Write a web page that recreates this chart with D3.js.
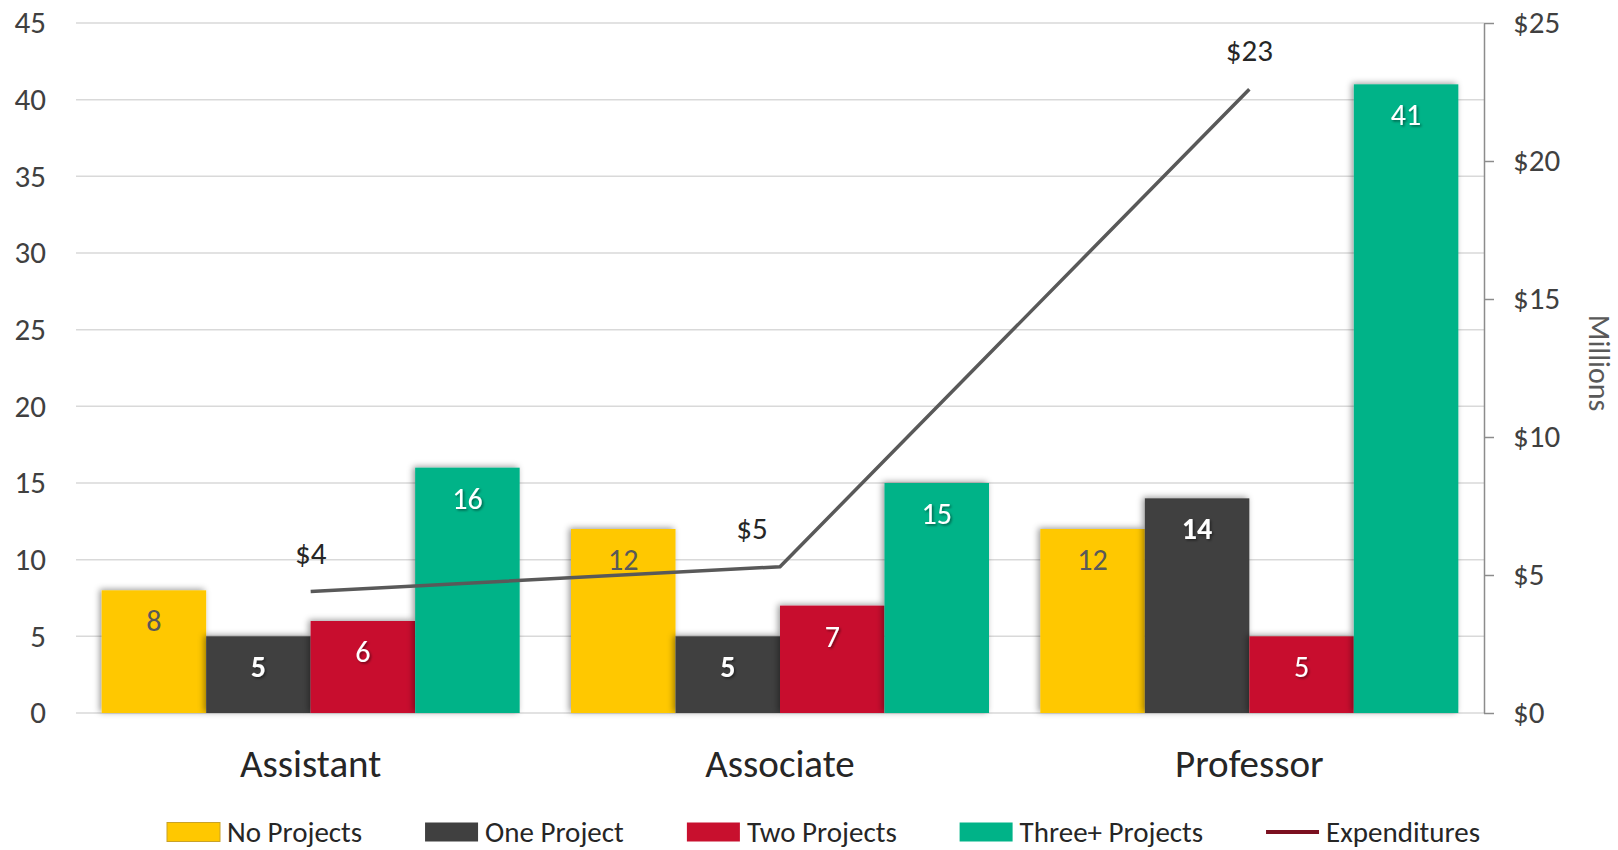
<!DOCTYPE html>
<html>
<head>
<meta charset="utf-8">
<script src="https://cdn.jsdelivr.net/npm/d3@7"></script>
<style>
  html, body { margin: 0; padding: 0; background: #fff; }
  svg { display: block; font-family: Carlito, Lato, "Open Sans", sans-serif; }
</style>
</head>
<body>
<svg id="chart" width="1618" height="850"></svg>
<script>
// Faculty rank categories
const categories = ["Assistant", "Associate", "Professor"];

// Number of faculty by project count, per rank
const seriesNames = ["No Projects", "One Project", "Two Projects", "Three+ Projects"];
const noProjects = [8, 12, 12];
const oneProject = [5, 5, 14];
const twoProjects = [6, 7, 5];
const threePlusProjects = [16, 15, 41];

// Research expenditures per rank, in millions of dollars
const expenditures = [4.4, 5.3, 22.6];

// Axis ticks
const countTicks = [0, 5, 10, 15, 20, 25, 30, 35, 40, 45];
const dollarTicks = [0, 5, 10, 15, 20, 25];

const seriesValues = [noProjects, oneProject, twoProjects, threePlusProjects];
const seriesColors = ["#FFC800", "#404040", "#C8102E", "#00B388"];
const labelColors = ["#595959", "#FFFFFF", "#FFFFFF", "#FFFFFF"];
const labelWeights = ["normal", "bold", "normal", "normal"];
const lineColor = "#595959";
const legendLineColor = "#7B1020";

const svg = d3.select("#chart");

const plot = { left: 76, right: 1484, top: 23, bottom: 713 };

const defs = svg.append("defs");
defs.append("filter").attr("id", "barShadow")
  .attr("x", "-20%").attr("y", "-20%").attr("width", "140%").attr("height", "140%")
  .append("feDropShadow")
  .attr("dx", -2).attr("dy", -1).attr("stdDeviation", 3)
  .attr("flood-color", "#000").attr("flood-opacity", 0.4);
defs.append("filter").attr("id", "textShadow")
  .attr("x", "-30%").attr("y", "-30%").attr("width", "160%").attr("height", "160%")
  .append("feDropShadow")
  .attr("dx", 1.5).attr("dy", 1.5).attr("stdDeviation", 1)
  .attr("flood-color", "#000").attr("flood-opacity", 0.45);

// Scales
const x0 = d3.scaleBand()
  .domain(categories)
  .range([plot.left, plot.right])
  .paddingInner(0.1094)
  .paddingOuter(0.0547);

const x1 = d3.scaleBand()
  .domain(d3.range(seriesNames.length))
  .range([0, x0.bandwidth()]);

const yCount = d3.scaleLinear().domain([0, 45]).range([plot.bottom, plot.top]);
const yDollar = d3.scaleLinear().domain([0, 25]).range([plot.bottom, plot.top]);

// Horizontal gridlines from the count axis
svg.append("g")
  .selectAll("line")
  .data(countTicks)
  .join("line")
  .attr("x1", plot.left).attr("x2", plot.right)
  .attr("y1", d => yCount(d)).attr("y2", d => yCount(d))
  .attr("stroke", "#D9D9D9").attr("stroke-width", 1.5);

// Left axis (labels only)
const leftAxis = svg.append("g")
  .attr("transform", `translate(${plot.left},0)`)
  .call(d3.axisLeft(yCount).tickValues(countTicks).tickSize(0).tickPadding(30));
leftAxis.select(".domain").remove();
leftAxis.selectAll("text")
  .attr("font-size", 31).attr("fill", "#404040")
  .attr("font-family", "Carlito, Lato, sans-serif");

// Right axis
const rightAxis = svg.append("g")
  .attr("transform", `translate(${plot.right},0)`)
  .call(d3.axisRight(yDollar).tickValues(dollarTicks).tickSize(10).tickSizeOuter(0)
    .tickPadding(19).tickFormat(d => "$" + d));
rightAxis.select(".domain").attr("stroke", "#8C8C8C").attr("stroke-width", 1.5);
rightAxis.selectAll(".tick line").attr("stroke", "#8C8C8C").attr("stroke-width", 1.5);
rightAxis.selectAll("text")
  .attr("font-size", 31).attr("fill", "#404040")
  .attr("font-family", "Carlito, Lato, sans-serif");

svg.append("text")
  .attr("transform", `translate(1589,363) rotate(90)`)
  .attr("text-anchor", "middle")
  .attr("font-size", 30).attr("fill", "#595959")
  .text("Millions");

// Grouped bars
const groups = svg.append("g")
  .selectAll("g")
  .data(categories)
  .join("g")
  .attr("transform", d => `translate(${x0(d)},0)`);

groups.selectAll("rect")
  .data((c, ci) => seriesValues.map((vals, si) => ({ si, v: vals[ci] })))
  .join("rect")
  .attr("x", d => x1(d.si))
  .attr("width", x1.bandwidth())
  .attr("y", d => yCount(d.v))
  .attr("height", d => yCount(0) - yCount(d.v))
  .attr("fill", d => seriesColors[d.si])
  .attr("filter", "url(#barShadow)");

groups.selectAll("text")
  .data((c, ci) => seriesValues.map((vals, si) => ({ si, v: vals[ci] })))
  .join("text")
  .attr("x", d => x1(d.si) + x1.bandwidth() / 2)
  .attr("y", d => yCount(d.v) + 41)
  .attr("text-anchor", "middle")
  .attr("font-size", 30)
  .attr("font-weight", d => labelWeights[d.si])
  .attr("fill", d => labelColors[d.si])
  .attr("filter", d => d.si === 0 ? null : "url(#textShadow)")
  .text(d => d.v);

// Category labels
svg.append("g")
  .selectAll("text")
  .data(categories)
  .join("text")
  .attr("x", d => x0(d) + x0.bandwidth() / 2)
  .attr("y", 777)
  .attr("text-anchor", "middle")
  .attr("font-size", 39).attr("fill", "#262626")
  .text(d => d);

// Expenditures line on the dollar axis
const linePts = categories.map((c, i) => [x0(c) + x0.bandwidth() / 2, yDollar(expenditures[i])]);
svg.append("path")
  .attr("d", d3.line()(linePts))
  .attr("fill", "none")
  .attr("stroke", lineColor)
  .attr("stroke-width", 3.5);

const lineLabelShift = [0, -28, 0];
svg.append("g")
  .selectAll("text")
  .data(expenditures)
  .join("text")
  .attr("x", (d, i) => linePts[i][0] + lineLabelShift[i])
  .attr("y", (d, i) => linePts[i][1] - 28)
  .attr("text-anchor", "middle")
  .attr("font-size", 31).attr("fill", "#262626")
  .text(d => "$" + d3.format(".0f")(d));

// Legend
const legendItems = seriesNames.map((n, i) => ({ name: n, color: seriesColors[i], type: "rect" }))
  .concat([{ name: "Expenditures", color: legendLineColor, type: "line" }]);

const legend = svg.append("g");
const swatchW = 53, swatchGap = 7, legendY = 832;
const legendLeft = 167, legendRight = 1480;
const itemsG = legend.selectAll("g").data(legendItems).join("g");
itemsG.each(function (d) {
  const g = d3.select(this);
  if (d.type === "rect") {
    g.append("rect")
      .attr("x", 0).attr("y", legendY - 9.5)
      .attr("width", swatchW).attr("height", 19)
      .attr("fill", d.color)
      .attr("stroke", d.color === "#FFC800" ? "#C9A227" : "none")
      .attr("stroke-width", 1);
  } else {
    g.append("line")
      .attr("x1", 0).attr("x2", swatchW)
      .attr("y1", legendY).attr("y2", legendY)
      .attr("stroke", d.color).attr("stroke-width", 4);
  }
  g.append("text")
    .attr("x", swatchW + swatchGap)
    .attr("y", legendY + 10)
    .attr("font-size", 29).attr("fill", "#262626")
    .text(d.name);
});
const widths = [];
itemsG.each(function () { widths.push(this.getBBox().width); });
const itemGap = (legendRight - legendLeft - d3.sum(widths)) / (widths.length - 1);
let cursor = legendLeft;
const offsets = widths.map(w => { const o = cursor; cursor += w + itemGap; return o; });
itemsG.attr("transform", (d, i) => `translate(${offsets[i]},0)`);
</script>
</body>
</html>
